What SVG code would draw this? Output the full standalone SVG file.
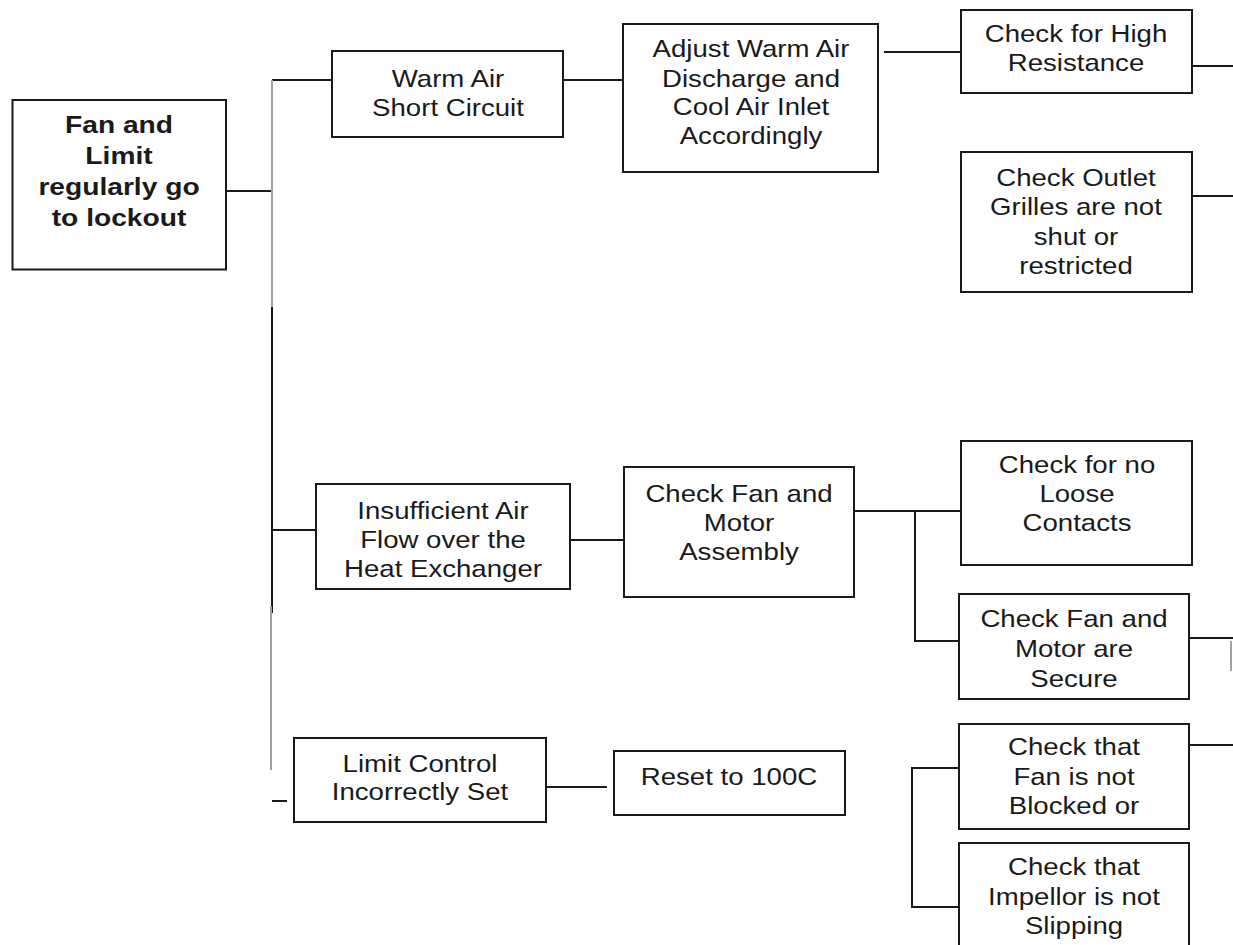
<svg xmlns="http://www.w3.org/2000/svg" width="1233" height="945" viewBox="0 0 1233 945">
<style>
.box{fill:#fff;stroke:#1a1a1a;stroke-width:2}
.t{font-family:"Liberation Sans",Arial,sans-serif;font-size:24px;fill:#1a1a1a;text-anchor:middle}
.b{font-weight:bold;font-size:24.5px}
.c{fill:none;stroke:#1a1a1a;stroke-width:2}
.g{fill:none;stroke:#a0a0a0;stroke-width:2}
</style>
<rect width="1233" height="945" fill="#fff"/>
<g id="connectors">
<path class="c" d="M226,191H272M272,307V613M272,80H332M272,530H316M272,801H287M563,80H623M884,52H961M1192,66H1233M1192,196H1233M562,540H624M854,511H961M915,511V641H963M1189,638H1233M1189,745H1233M959,768H912V907H959M546,787H607"/>
<path class="g" d="M272,80V307M271,606V770M1231,641V671"/>
</g>
<g id="root">
<rect class="box" x="12.5" y="100" width="213.5" height="169.5"/>
<g transform="translate(119,0) scale(1.15,1)"><text class="t b"><tspan x="0" y="133">Fan and</tspan><tspan x="0" y="164">Limit</tspan><tspan x="0" y="195">regularly go</tspan><tspan x="0" y="226">to lockout</tspan></text></g>
</g>
<g id="warm">
<rect class="box" x="332" y="51" width="231" height="86"/>
<g transform="translate(448,0) scale(1.15,1)"><text class="t"><tspan x="0" y="87">Warm Air</tspan><tspan x="0" y="116">Short Circuit</tspan></text></g>
</g>
<g id="adjust">
<rect class="box" x="623" y="24" width="255" height="148"/>
<g transform="translate(751,0) scale(1.15,1)"><text class="t"><tspan x="0" y="57">Adjust Warm Air</tspan><tspan x="0" y="87">Discharge and</tspan><tspan x="0" y="115">Cool Air Inlet</tspan><tspan x="0" y="144">Accordingly</tspan></text></g>
</g>
<g id="high">
<rect class="box" x="961" y="10" width="231" height="83"/>
<g transform="translate(1076,0) scale(1.15,1)"><text class="t"><tspan x="0" y="42">Check for High</tspan><tspan x="0" y="71">Resistance</tspan></text></g>
</g>
<g id="outlet">
<rect class="box" x="961" y="152" width="231" height="140"/>
<g transform="translate(1076,0) scale(1.15,1)"><text class="t"><tspan x="0" y="186">Check Outlet</tspan><tspan x="0" y="215">Grilles are not</tspan><tspan x="0" y="245">shut or</tspan><tspan x="0" y="274">restricted</tspan></text></g>
</g>
<g id="insufficient">
<rect class="box" x="316" y="484" width="254" height="105"/>
<g transform="translate(443,0) scale(1.15,1)"><text class="t"><tspan x="0" y="519">Insufficient Air</tspan><tspan x="0" y="548">Flow over the</tspan><tspan x="0" y="577">Heat Exchanger</tspan></text></g>
</g>
<g id="checkfan">
<rect class="box" x="624" y="467" width="230" height="130"/>
<g transform="translate(739,0) scale(1.15,1)"><text class="t"><tspan x="0" y="502">Check Fan and</tspan><tspan x="0" y="531">Motor</tspan><tspan x="0" y="560">Assembly</tspan></text></g>
</g>
<g id="loose">
<rect class="box" x="961" y="441" width="231" height="124"/>
<g transform="translate(1077,0) scale(1.15,1)"><text class="t"><tspan x="0" y="473">Check for no</tspan><tspan x="0" y="502">Loose</tspan><tspan x="0" y="531">Contacts</tspan></text></g>
</g>
<g id="secure">
<rect class="box" x="959" y="594" width="230" height="105"/>
<g transform="translate(1074,0) scale(1.15,1)"><text class="t"><tspan x="0" y="627">Check Fan and</tspan><tspan x="0" y="657">Motor are</tspan><tspan x="0" y="687">Secure</tspan></text></g>
</g>
<g id="blocked">
<rect class="box" x="959" y="724" width="230" height="105"/>
<g transform="translate(1074,0) scale(1.15,1)"><text class="t"><tspan x="0" y="755">Check that</tspan><tspan x="0" y="785">Fan is not</tspan><tspan x="0" y="814">Blocked or</tspan></text></g>
</g>
<g id="impellor">
<rect class="box" x="959" y="843" width="230" height="110"/>
<g transform="translate(1074,0) scale(1.15,1)"><text class="t"><tspan x="0" y="875">Check that</tspan><tspan x="0" y="905">Impellor is not</tspan><tspan x="0" y="934">Slipping</tspan></text></g>
</g>
<g id="limit">
<rect class="box" x="294" y="738" width="252" height="84"/>
<g transform="translate(420,0) scale(1.15,1)"><text class="t"><tspan x="0" y="772">Limit Control</tspan><tspan x="0" y="800">Incorrectly Set</tspan></text></g>
</g>
<g id="reset">
<rect class="box" x="614" y="751" width="231" height="64"/>
<g transform="translate(729,0) scale(1.15,1)"><text class="t"><tspan x="0" y="785">Reset to 100C</tspan></text></g>
</g>
</svg>
